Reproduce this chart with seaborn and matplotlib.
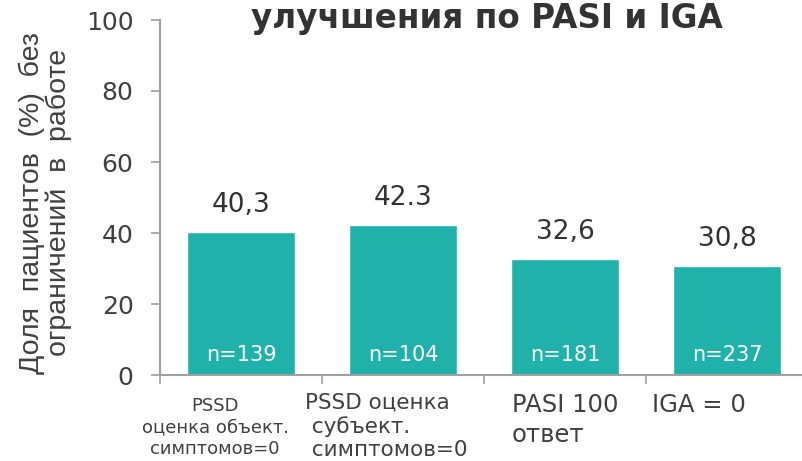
import matplotlib
matplotlib.use("Agg")
import matplotlib.pyplot as plt
import seaborn as sns
import pandas as pd
from matplotlib.transforms import blended_transform_factory

categories = ["PSSD\nоценка объект.\nсимптомов=0",
              "PSSD оценка\n субъект.\n симптомов=0",
              "PASI 100\nответ",
              "IGA = 0"]
values = [40.3, 42.3, 32.6, 30.8]
value_labels = ["40,3", "42.3", "32,6", "30,8"]
n_labels = ["n=139", "n=104", "n=181", "n=237"]
y_ticks = [0, 20, 40, 60, 80, 100]
title = "улучшения по PASI и IGA"
y_label = "Доля  пациентов  (%)  без\nограничений  в  работе"

sns.set_theme(style="white")
plt.rcParams["font.family"] = ["DejaVu Sans"]

BAR = "#20B2AA"
AXC = "#A0A0A0"
TXT = "#404040"

fig = plt.figure(figsize=(8.03, 4.61), dpi=100)
ax = fig.add_axes([160 / 803, 86 / 461, 643 / 803, 355 / 461])
df = pd.DataFrame({"cat": categories, "val": values})
sns.barplot(data=df, x="cat", y="val", order=categories, color=BAR,
            saturation=1, width=0.67, ax=ax)

ax.set_xlim(-0.5, 3.47)
ax.set_ylim(0, 100)
ax.set_xticks([-0.5, 0.5, 1.5, 2.5], labels=[""] * 4)
ax.set_yticks(y_ticks)
ax.set_xlabel("")
for s in ["top", "right"]:
    ax.spines[s].set_visible(False)
for s in ["left", "bottom"]:
    ax.spines[s].set_color(AXC)
    ax.spines[s].set_linewidth(1.5)
ax.tick_params(axis="both", which="major", direction="out", length=6.5,
               width=1.2, color=AXC, left=True, bottom=True)
ax.tick_params(axis="y", labelsize=18, labelcolor=TXT, pad=12.5)

# value labels and n labels
for i, (v, lab, n) in enumerate(zip(values, value_labels, n_labels)):
    ax.text(i, v + 7.6, lab, ha="center", va="center", fontsize=19, color="#333333")
    ax.text(i, 5.6, n, ha="center", va="center", fontsize=15, color="white")

# category labels
trans = blended_transform_factory(ax.transData, fig.transFigure)
label_specs = [
    dict(dx=-0.16, ha="center", size=13, ls=1.25, top=397),
    dict(dx=-0.605, ha="left", size=15.5, ls=1.2, top=393),
    dict(dx=-0.327, ha="left", size=17.5, ls=1.3, top=393),
    dict(dx=-0.463, ha="left", size=17.5, ls=1.3, top=393),
]
for i, (cat, spec) in enumerate(zip(categories, label_specs)):
    ax.text(i + spec["dx"], 1 - spec["top"] / 461, cat, transform=trans,
            ha=spec["ha"], va="top", multialignment=spec["ha"],
            fontsize=spec["size"], linespacing=spec["ls"], color=TXT)

ax.set_ylabel(y_label, fontsize=20.5, family=["Liberation Sans", "DejaVu Sans"],
              color=TXT, linespacing=1.0)
ax.yaxis.set_label_coords(-0.137, 0.485)

fig.text(487 / 803, 1 - 28 / 461, title, ha="center", va="baseline",
         fontsize=23.5, fontweight="bold", color="#333333")

fig.savefig("out.png", dpi=100)
